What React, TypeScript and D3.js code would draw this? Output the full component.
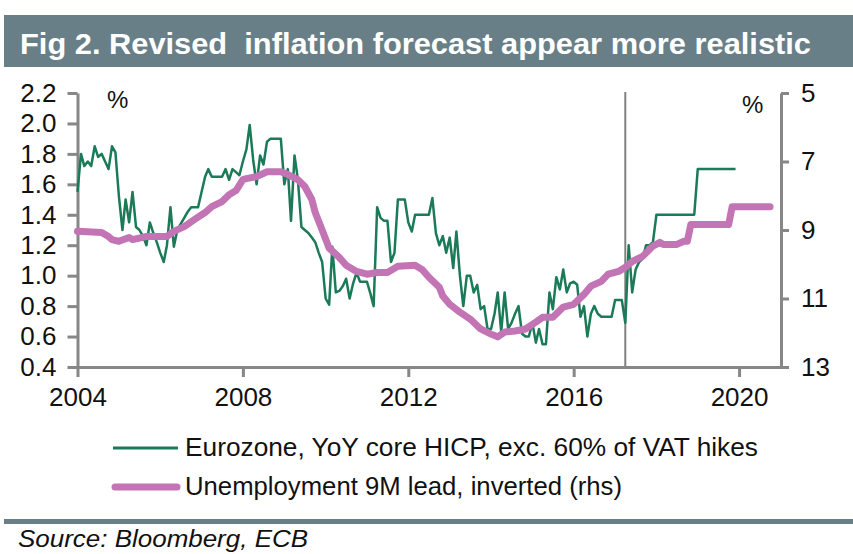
import React, { useEffect, useRef } from 'react';
import * as d3 from 'd3';

// Eurozone core HICP YoY (%), monthly from Jan 2004 to Dec 2019 (projections from mid-2017)
const coreStart = '2004-01';
const coreHicp = [
  1.55, 1.80, 1.72, 1.75, 1.72, 1.85, 1.78, 1.80, 1.75, 1.70, 1.85, 1.81,
  1.52, 1.30, 1.50, 1.35, 1.55, 1.32, 1.30, 1.26, 1.20, 1.35, 1.28, 1.22,
  1.15, 1.09, 1.20, 1.45, 1.19, 1.30, 1.34, 1.38, 1.42, 1.45, 1.45, 1.45,
  1.55, 1.65, 1.70, 1.65, 1.65, 1.65, 1.65, 1.70, 1.63, 1.70, 1.68, 1.66,
  1.75, 1.83, 1.99, 1.76, 1.60, 1.79, 1.73, 1.88, 1.90, 1.90, 1.90, 1.90,
  1.60, 1.70, 1.36, 1.79, 1.63, 1.32, 1.30, 1.28, 1.25, 1.22, 1.15, 1.09,
  0.85, 0.81, 1.19, 0.89, 0.90, 0.93, 0.98, 0.85, 0.95, 1.02, 0.96, 0.96,
  0.96, 0.88, 0.80, 1.45, 1.38, 1.36, 1.36, 1.09, 1.15, 1.50, 1.50, 1.50,
  1.35, 1.29, 1.40, 1.40, 1.40, 1.40, 1.40, 1.51, 1.28, 1.20, 1.26, 1.15,
  1.25, 1.05, 1.29, 1.00, 0.80, 1.00, 1.00, 0.89, 0.94, 0.78, 0.80, 0.65,
  0.65, 0.75, 0.89, 0.63, 0.89, 0.65, 0.69, 0.75, 0.80, 0.62, 0.60, 0.60,
  0.69, 0.56, 0.65, 0.55, 0.55, 0.89, 0.78, 0.99, 0.91, 1.04, 0.89, 0.95,
  0.96, 0.94, 0.73, 0.80, 0.60, 0.75, 0.80, 0.75, 0.73, 0.73, 0.73, 0.73,
  0.84, 0.84, 0.84, 0.69, 1.20, 0.89, 1.04, 1.09, 1.11, 1.20, 1.20, 1.22,
  1.40, 1.40, 1.40, 1.40, 1.40, 1.40, 1.40, 1.40, 1.40, 1.40, 1.40, 1.40,
  1.70, 1.70, 1.70, 1.70, 1.70, 1.70, 1.70, 1.70, 1.70, 1.70, 1.70, 1.70,
];

// Unemployment rate (%), shifted 9 months forward, plotted inverted on the right axis
const unempMonths = [
  '2004-01', '2004-08', '2004-10', '2004-11', '2005-01', '2005-04', '2005-05', '2005-09',
  '2006-03', '2006-05', '2006-08', '2006-11', '2007-02', '2007-04', '2007-07', '2007-09',
  '2007-11', '2008-01', '2008-02', '2008-05', '2008-08', '2008-12', '2009-02', '2009-05',
  '2009-07', '2009-09', '2009-10', '2009-12', '2010-02', '2010-05', '2010-07', '2010-10',
  '2011-01', '2011-04', '2011-07', '2011-10', '2012-03', '2012-05', '2012-07', '2012-10',
  '2012-11', '2013-01', '2013-04', '2013-07', '2013-10', '2014-01', '2014-03', '2014-05',
  '2014-08', '2014-11', '2015-02', '2015-04', '2015-07', '2015-10', '2016-01', '2016-04',
  '2016-06', '2016-09', '2016-11', '2017-02', '2017-04', '2017-06', '2017-09', '2017-12',
  '2018-02', '2018-03', '2018-07', '2018-09', '2018-10', '2018-11', '2019-10', '2019-11',
  '2020-10',
];
const unempValues = [
  9.04, 9.07, 9.19, 9.28, 9.33, 9.22, 9.28, 9.19,
  9.19, 9.04, 8.90, 8.69, 8.49, 8.32, 8.17, 7.97,
  7.85, 7.53, 7.50, 7.44, 7.30, 7.30, 7.38, 7.53,
  7.73, 8.11, 8.49, 9.00, 9.53, 9.80, 10.03, 10.21,
  10.29, 10.24, 10.24, 10.06, 10.03, 10.15, 10.38, 10.67,
  10.93, 11.17, 11.40, 11.60, 11.89, 12.04, 12.12, 11.98,
  11.95, 11.89, 11.69, 11.55, 11.55, 11.25, 11.17, 10.88,
  10.64, 10.50, 10.29, 10.21, 10.09, 9.92, 9.77, 9.47,
  9.36, 9.42, 9.42, 9.33, 9.33, 8.84, 8.84, 8.32,
  8.32,
];

const leftTicks = [0.4, 0.6, 0.8, 1.0, 1.2, 1.4, 1.6, 1.8, 2.0, 2.2];
const rightTicks = [5, 7, 9, 11, 13];
const yearTicks = [2004, 2008, 2012, 2016, 2020];
const forecastMonth = '2017-04';

const title = 'Fig 2. Revised  inflation forecast appear more realistic';
const legendCore = 'Eurozone, YoY core HICP, exc. 60% of VAT hikes';
const legendUnemp = 'Unemployment 9M lead, inverted (rhs)';
const source = 'Source: Bloomberg, ECB';

const FONT = '"Liberation Sans", Arial, Helvetica, sans-serif';
const BAND = '#687f87';
const GREEN = '#1b7a58';
const PINK = '#c274b4';
const AXIS = '#878787';

const parseMonth = d3.timeParse('%Y-%m');

export default function App() {
  const svgRef = useRef<SVGSVGElement>(null);

  useEffect(() => {
    const W = 853;
    const H = 554;
    const svg = d3.select(svgRef.current).attr('width', W).attr('height', H);
    svg.selectAll('*').remove();

    svg.append('rect').attr('width', W).attr('height', H).attr('fill', '#fff');

    // header band
    svg.append('rect').attr('x', 4).attr('y', 15).attr('width', W - 4).attr('height', 52).attr('fill', BAND);
    svg.append('text')
      .attr('x', 20).attr('y', 54)
      .attr('fill', '#fff').attr('font-family', FONT).attr('font-weight', 'bold').attr('font-size', 30)
      .attr('textLength', 791).attr('lengthAdjust', 'spacingAndGlyphs')
      .style('white-space', 'pre')
      .text(title);

    const x = d3.scaleTime()
      .domain([new Date(2004, 0, 1), new Date(2021, 0, 1)])
      .range([77.5, 780.5]);
    const yL = d3.scaleLinear().domain([0.4, 2.2]).range([367, 93]);
    const yR = d3.scaleLinear().domain([5, 13]).range([93, 367]);

    const start = parseMonth(coreStart) as Date;
    const core = coreHicp.map((v, i) => ({ date: d3.timeMonth.offset(start, i), v }));
    const unemp = unempMonths.map((m, i) => ({ date: parseMonth(m) as Date, v: unempValues[i] }));

    // vertical marker where the projections start
    const fx = x(parseMonth(forecastMonth) as Date);
    svg.append('line')
      .attr('x1', fx).attr('x2', fx).attr('y1', 92).attr('y2', 367)
      .attr('stroke', '#808080').attr('stroke-width', 2);

    const styleAxis = (g: d3.Selection<SVGGElement, unknown, null, undefined>) => {
      g.select('.domain').attr('stroke', AXIS).attr('stroke-width', 3);
      g.selectAll('.tick line').attr('stroke', AXIS).attr('stroke-width', 3);
      g.selectAll('.tick text').attr('fill', '#111').attr('font-family', FONT).attr('font-size', 26);
      g.attr('font-family', null).attr('font-size', null);
    };

    svg.append('g')
      .attr('transform', 'translate(77.5,0)')
      .call(d3.axisLeft(yL).tickValues(leftTicks).tickFormat(d3.format('.1f')).tickSize(10).tickSizeOuter(0).tickPadding(11))
      .call(styleAxis);

    svg.append('g')
      .attr('transform', 'translate(781,0)')
      .call(d3.axisRight(yR).tickValues(rightTicks).tickFormat(d3.format('d')).tickSize(8).tickSizeOuter(0).tickPadding(12))
      .call(styleAxis);

    svg.append('g')
      .attr('transform', 'translate(0,367)')
      .call(d3.axisBottom(x)
        .tickValues(yearTicks.map(y => new Date(y, 0, 1)))
        .tickFormat(d3.timeFormat('%Y') as any)
        .tickSize(10).tickSizeOuter(0).tickPadding(11))
      .call(styleAxis);

    // unit labels
    svg.append('text').attr('x', 107).attr('y', 108).attr('font-family', FONT).attr('font-size', 24).attr('fill', '#111').text('%');
    svg.append('text').attr('x', 742).attr('y', 113).attr('font-family', FONT).attr('font-size', 24).attr('fill', '#111').text('%');

    const coreLine = d3.line<{ date: Date; v: number }>().x(d => x(d.date)).y(d => yL(d.v));
    const unempLine = d3.line<{ date: Date; v: number }>().x(d => x(d.date)).y(d => yR(d.v));

    svg.append('path').datum(core)
      .attr('d', coreLine).attr('fill', 'none')
      .attr('stroke', GREEN).attr('stroke-width', 2.5).attr('stroke-linejoin', 'round');

    svg.append('path').datum(unemp)
      .attr('d', unempLine).attr('fill', 'none')
      .attr('stroke', PINK).attr('stroke-width', 7).attr('stroke-linejoin', 'round').attr('stroke-linecap', 'round');

    // legend
    svg.append('line').attr('x1', 113).attr('x2', 178).attr('y1', 448).attr('y2', 448)
      .attr('stroke', GREEN).attr('stroke-width', 3);
    svg.append('text').attr('x', 185).attr('y', 456)
      .attr('font-family', FONT).attr('font-size', 25).attr('fill', '#111')
      .attr('textLength', 573).attr('lengthAdjust', 'spacingAndGlyphs')
      .text(legendCore);
    svg.append('line').attr('x1', 115).attr('x2', 177).attr('y1', 487).attr('y2', 487)
      .attr('stroke', PINK).attr('stroke-width', 7).attr('stroke-linecap', 'round');
    svg.append('text').attr('x', 185).attr('y', 495)
      .attr('font-family', FONT).attr('font-size', 25).attr('fill', '#111')
      .attr('textLength', 437).attr('lengthAdjust', 'spacingAndGlyphs')
      .text(legendUnemp);

    // footer rule and source
    svg.append('rect').attr('x', 4).attr('y', 519).attr('width', W - 4).attr('height', 5).attr('fill', BAND);
    svg.append('text').attr('x', 18).attr('y', 547)
      .attr('font-family', FONT).attr('font-size', 24).attr('font-style', 'italic').attr('fill', '#111')
      .attr('textLength', 290).attr('lengthAdjust', 'spacingAndGlyphs')
      .text(source);
  }, []);

  return (
    <svg ref={svgRef} style={{ position: 'absolute', left: 0, top: 0, display: 'block' }} />
  );
}
